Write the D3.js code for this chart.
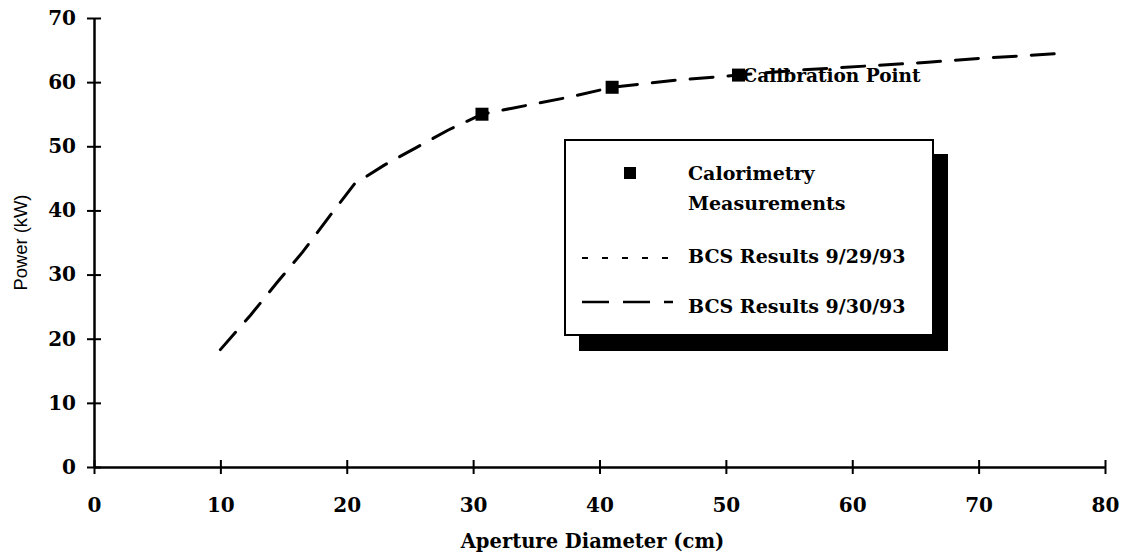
<!DOCTYPE html>
<html>
<head>
<meta charset="utf-8">
<script src="https://cdn.jsdelivr.net/npm/d3@7"></script>
<style>
  body { margin: 0; background: #fff; }
  svg { display: block; }
  .serif { font-family: "DejaVu Serif", "Liberation Serif", serif; font-weight: bold; }
</style>
</head>
<body>
<div id="chart"></div>
<script>
// BCS results 9/30/93 (dashed curve)
const bcsX = [10, 12.4, 14.5, 16.5, 18.6, 20.6, 23, 25.5, 28, 30.7, 33, 37.7, 41, 46, 51, 56, 61, 66, 70, 76.7];
const bcsY = [18.3, 23.7, 28.8, 33.5, 39.0, 44.1, 47.1, 49.8, 52.5, 55.0, 55.9, 57.7, 59.2, 60.3, 61.1, 61.9, 62.5, 63.1, 63.7, 64.5];
// calorimetry measurements (squares)
const calX = [30.7, 41, 51];
const calY = [55.0, 59.2, 61.1];
const xTicks = [0, 10, 20, 30, 40, 50, 60, 70, 80];
const yTicks = [0, 10, 20, 30, 40, 50, 60, 70];
const legendItems = ["BCS Results 9/29/93", "BCS Results 9/30/93"];

const width = 1124, height = 555;
const svg = d3.select("#chart").append("svg")
  .attr("width", width)
  .attr("height", height);

const x = d3.scaleLinear().domain([0, 80]).range([94, 1105]);
const y = d3.scaleLinear().domain([0, 70]).range([467, 18]);

// axes
const yAxis = svg.append("g")
  .attr("transform", `translate(${x(0)},0)`)
  .call(d3.axisLeft(y).tickValues(yTicks).tickSize(7).tickSizeOuter(0));
yAxis.select(".domain").attr("stroke", "#000").attr("stroke-width", 2.5);
yAxis.selectAll(".tick line").attr("x1", 7).attr("stroke-width", 2);
yAxis.selectAll(".tick text")
  .attr("class", "serif")
  .attr("x", -18)
  .attr("font-size", 20)
  .attr("fill", "#000");

const xAxis = svg.append("g")
  .attr("transform", `translate(0,${y(0)})`)
  .call(d3.axisBottom(x).tickValues(xTicks).tickSize(7).tickSizeOuter(0));
xAxis.select(".domain").attr("stroke", "#000").attr("stroke-width", 2.5);
xAxis.selectAll(".tick line").attr("y1", -7).attr("stroke-width", 2);
xAxis.selectAll(".tick text")
  .attr("class", "serif")
  .attr("y", 45)
  .attr("dy", 0)
  .attr("font-size", 20)
  .attr("fill", "#000");

// axis titles
svg.append("text")
  .attr("class", "serif")
  .attr("x", (x(0) + x(80)) / 2 - 7)
  .attr("y", 548)
  .attr("text-anchor", "middle")
  .attr("font-size", 19.5)
  .text("Aperture Diameter (cm)");

svg.append("text")
  .attr("transform", `translate(27,${(y(0) + y(70)) / 2}) rotate(-90)`)
  .attr("text-anchor", "middle")
  .attr("font-family", "Liberation Sans, Arial, sans-serif")
  .attr("font-size", 19)
  .attr("textLength", 96)
  .attr("lengthAdjust", "spacingAndGlyphs")
  .text("Power (kW)");

// dashed curve
const line = d3.line().x(d => x(d[0])).y(d => y(d[1]));
svg.append("path")
  .datum(d3.zip(bcsX, bcsY))
  .attr("d", line)
  .attr("fill", "none")
  .attr("stroke", "#000")
  .attr("stroke-width", 3)
  .attr("stroke-linecap", "round")
  .attr("stroke-dasharray", "23,15");

// calorimetry squares
svg.selectAll(".cal")
  .data(d3.zip(calX, calY))
  .enter().append("rect")
  .attr("class", "cal")
  .attr("x", d => x(d[0]) - 6.5)
  .attr("y", d => y(d[1]) - 6.5)
  .attr("width", 13)
  .attr("height", 13)
  .attr("fill", "#000");

svg.append("text")
  .attr("class", "serif")
  .attr("x", x(calX[2]) + 4)
  .attr("y", y(calY[2]) + 7)
  .attr("font-size", 18.5)
  .text("Calibration Point");

// legend
const lg = svg.append("g").attr("transform", "translate(565,140)");
lg.append("rect")
  .attr("x", 14).attr("y", 14)
  .attr("width", 369).attr("height", 197)
  .attr("fill", "#000");
lg.append("rect")
  .attr("width", 368).attr("height", 195)
  .attr("fill", "#fff")
  .attr("stroke", "#000")
  .attr("stroke-width", 2);
lg.append("rect")
  .attr("x", 59).attr("y", 27)
  .attr("width", 12).attr("height", 12)
  .attr("fill", "#000");
lg.append("text").attr("class", "serif").attr("x", 123).attr("y", 40)
  .attr("font-size", 19).text("Calorimetry");
lg.append("text").attr("class", "serif").attr("x", 123).attr("y", 70)
  .attr("font-size", 19).text("Measurements");

const dashes = ["6,14", "27,14"];
legendItems.forEach((name, i) => {
  const yy = 118 + i * 44;
  lg.append("line")
    .attr("x1", 17).attr("x2", 108)
    .attr("y1", yy).attr("y2", yy)
    .attr("stroke", "#000")
    .attr("stroke-width", i === 0 ? 2 : 2.5)
    .attr("stroke-dasharray", dashes[i]);
  lg.append("text").attr("class", "serif")
    .attr("x", 123).attr("y", yy + 5 + i * 6)
    .attr("font-size", 19).text(name);
});
</script>
</body>
</html>
